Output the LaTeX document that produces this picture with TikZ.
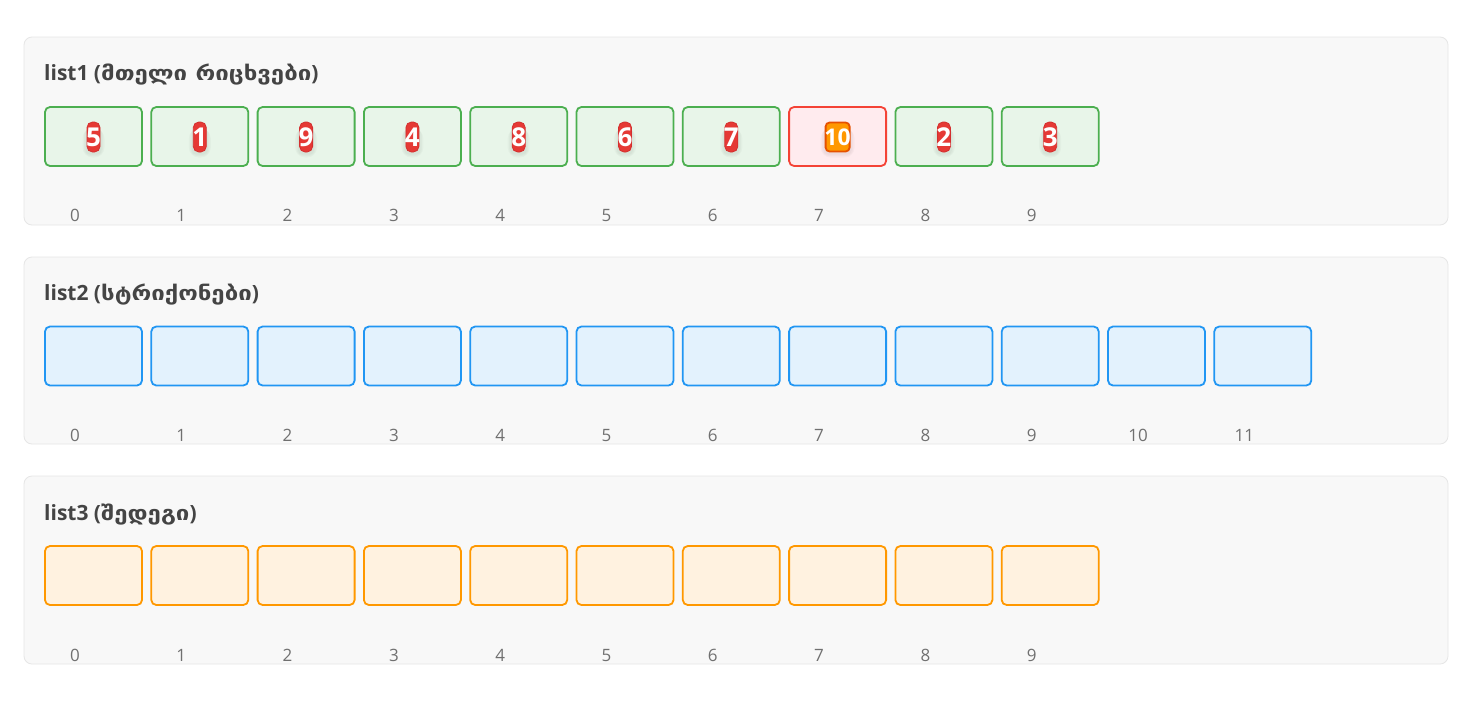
\documentclass[tikz,border=0pt]{standalone}
\usepackage{fontspec}
\setmainfont{Open Sans}
\newfontfamily\geofont[FakeStretch=1.2]{DejaVu Sans}
\usetikzlibrary{calc}
\definecolor{panelfill}{HTML}{F8F8F8}
\definecolor{panelline}{HTML}{E6E6E6}
\definecolor{gline}{HTML}{4CAF50}
\definecolor{gfill}{HTML}{E8F5E9}
\definecolor{rline}{HTML}{F44336}
\definecolor{rfill}{HTML}{FFEBEE}
\definecolor{bline}{HTML}{2196F3}
\definecolor{bfill}{HTML}{E3F2FD}
\definecolor{oline}{HTML}{FF9800}
\definecolor{ofill}{HTML}{FFF2E0}
\definecolor{badgered}{HTML}{E53935}
\definecolor{badgeredline}{HTML}{D32F2F}
\definecolor{badgeor}{HTML}{FF9800}
\definecolor{badgeorline}{HTML}{E65100}
\definecolor{titlecol}{HTML}{444444}
\definecolor{idxcol}{HTML}{707070}
\newcommand{\geo}[1]{{\fontsize{20}{22}\selectfont\geofont #1}}
\tikzset{
  panel/.style={draw=panelline, fill=panelfill, line width=0.8pt, rounded corners=8pt},
  cellbox/.style={rectangle, rounded corners=5pt, line width=1.8pt, minimum width=97pt, minimum height=59pt, inner sep=0pt},
  gcell/.style={cellbox, draw=gline, fill=gfill},
  rcell/.style={cellbox, draw=rline, fill=rfill},
  bcell/.style={cellbox, draw=bline, fill=bfill},
  ocell/.style={cellbox, draw=oline, fill=ofill},
  title/.style={anchor=base west, font=\fontsize{21}{23}\selectfont\bfseries, text=titlecol, inner sep=0pt},
  idx/.style={anchor=base, font=\fontsize{17}{19}\selectfont, text=idxcol, inner sep=0pt},
  redbadge/.style={rectangle, rounded corners=5.5pt, fill=badgered, draw=badgeredline, line width=0.8pt, minimum width=13pt, minimum height=30pt, inner sep=0pt},
  orbadge/.style={rectangle, rounded corners=4pt, fill=badgeor, draw=badgeorline, line width=1.8pt, minimum width=24pt, minimum height=29pt, inner sep=0pt},
  badgetext/.style={anchor=base, font=\fontsize{26}{28}\selectfont\bfseries, text=white, inner sep=0pt},
  badgetextsm/.style={anchor=base, font=\fontsize{23}{25}\selectfont\bfseries, text=white, inner sep=0pt},
  shadowblob/.style={fill=black, opacity=0.025},
}
\begin{document}
\begin{tikzpicture}[x=1pt,y=-1pt]
\useasboundingbox (0,0) rectangle (1476,702);
\fill[white] (0,0) rectangle (1476,702);
% panels
\draw[panel] (24,37) rectangle (1448,225);
\draw[panel] (24,257) rectangle (1448,444);
\draw[panel] (24,476) rectangle (1448,664);
% titles
\node[title] (t1) at (44,80) {list1 (\geo{მთელი რიცხვები})};
\node[title] (t2) at (44,300) {list2 (\geo{სტრიქონები})};
\node[title] (t3) at (44,520) {list3 (\geo{შედეგი})};
% list1
\foreach \v [count=\i from 0] in {5,1,9,4,8,6,7,10,2,3} {
  \pgfmathsetmacro{\cx}{44+49.5+106.3*\i}
  \ifnum\i=7
    \node[rcell] (a\i) at (\cx,136.5) {};
    \foreach \s in {4,7,10}
      \fill[shadowblob, rounded corners=\s pt] ($(a\i)+(-12-\s/2,-8)$) rectangle ($(a\i)+(12+\s/2,16+\s/2)$);
    \node[orbadge] (ab\i) at (\cx,137) {};
    \node[badgetextsm] (av\i) at ($(ab\i)+(0,8)$) {\v};
  \else
    \node[gcell] (a\i) at (\cx,136.5) {};
    \foreach \s in {4,7,10}
      \fill[shadowblob, rounded corners=\s pt] ($(a\i)+(-6-\s/2,-8)$) rectangle ($(a\i)+(6+\s/2,16+\s/2)$);
    \node[redbadge] (ab\i) at (\cx,137) {};
    \node[badgetext] (av\i) at ($(ab\i)+(0,9.5)$) {\v};
  \fi
  \node[idx] (ai\i) at ({44+31+106.3*\i},221) {\i};
}
% list2
\foreach \i in {0,...,11} {
  \pgfmathsetmacro{\cx}{44+49.5+106.3*\i}
  \node[bcell] (b\i) at (\cx,356) {};
  \node[idx] (bi\i) at ({44+31+106.3*\i},441) {\i};
}
% list3
\foreach \i in {0,...,9} {
  \pgfmathsetmacro{\cx}{44+49.5+106.3*\i}
  \node[ocell] (c\i) at (\cx,575.5) {};
  \node[idx] (ci\i) at ({44+31+106.3*\i},661) {\i};
}
\end{tikzpicture}
\end{document}
